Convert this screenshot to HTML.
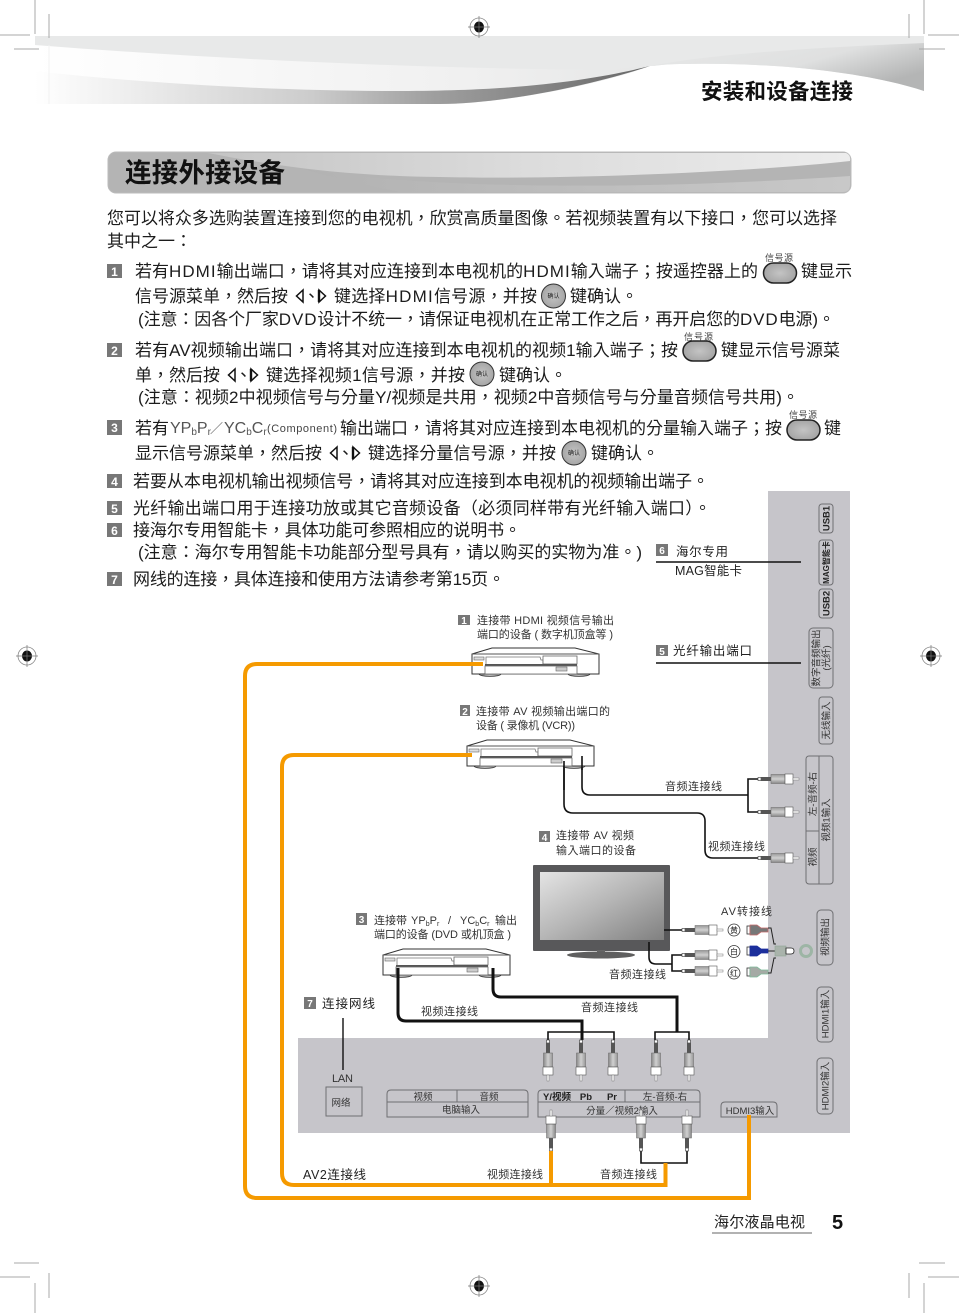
<!DOCTYPE html>
<html lang="zh-TW"><head><meta charset="utf-8"><title>连接外接设备</title>
<style>
html,body{margin:0;padding:0;background:#fff}
svg{display:block}
text{font-family:"Liberation Sans","Noto Sans CJK TC",sans-serif;fill:#222}
.b{font-size:17px;fill:#1c1c1c}
.s{font-size:11px;fill:#333}
.m{font-size:12.5px;fill:#222}
.v{font-size:9.5px;fill:#333}
.vb{font-size:9.5px;font-weight:bold;fill:#222}
.tiny{font-size:9px;fill:#444}
.n{font-weight:bold;fill:#fff;text-anchor:middle}
.crop{stroke:#aaa;stroke-width:1;fill:none}
.port{fill:none;stroke:#6f6f72;stroke-width:1}
.l{letter-spacing:1px}
</style></head><body>
<svg xmlns="http://www.w3.org/2000/svg" width="959" height="1313" viewBox="0 0 959 1313">
<defs>
<linearGradient id="g1" x1="0" x2="1" y1="0" y2="0"><stop offset="0" stop-color="#fff"/><stop offset=".45" stop-color="#ccc"/><stop offset=".64" stop-color="#a0a0a0"/><stop offset=".85" stop-color="#808080"/><stop offset="1" stop-color="#666"/></linearGradient>
<linearGradient id="g2" x1="0" x2="1" y1="0" y2=".6"><stop offset="0" stop-color="#e8e9e9"/><stop offset=".6" stop-color="#dfe0e0"/><stop offset="1" stop-color="#b4b5b5"/></linearGradient>
<linearGradient id="g3" x1="0" x2="1" y1="0" y2="0"><stop offset="0" stop-color="#fff"/><stop offset=".7" stop-color="#f0f0f0"/><stop offset="1" stop-color="#e6e7e7"/></linearGradient>
<linearGradient id="g4" x1="0" x2="1" y1="0" y2="0"><stop offset="0" stop-color="#c4c4c4"/><stop offset=".5" stop-color="#dcdcdc"/><stop offset="1" stop-color="#ececec"/></linearGradient>
<linearGradient id="g5" x1="0" x2="1" y1="0" y2="0"><stop offset="0" stop-color="#b2b2b2"/><stop offset="1" stop-color="#c8c8c8"/></linearGradient>
<linearGradient id="scr" x1="0" x2="1" y1="0" y2="1"><stop offset="0" stop-color="#e4e4e4"/><stop offset=".5" stop-color="#b5b5b5"/><stop offset="1" stop-color="#808080"/></linearGradient>
<linearGradient id="bar" x1="0" x2="0" y1="0" y2="1"><stop offset="0" stop-color="#999"/><stop offset=".5" stop-color="#d0d0d0"/><stop offset="1" stop-color="#888"/></linearGradient>
<radialGradient id="btn"><stop offset="0" stop-color="#c4c4c4"/><stop offset="1" stop-color="#a6a6a6"/></radialGradient>
<g id="reg"><circle r="9" fill="#fff" stroke="#888" stroke-width=".8"/><ellipse rx="5" ry="5.5" fill="#111"/><path d="M-11 0H11M0-11V11" stroke="#777" stroke-width=".7"/></g>
<g id="dev">
<ellipse cx="19" cy="26" rx="11" ry="2.4" fill="#bbb" stroke="#333" stroke-width=".8"/>
<ellipse cx="108" cy="26" rx="11" ry="2.4" fill="#bbb" stroke="#333" stroke-width=".8"/>
<path d="M1 6L21 0H104L128 6V26H1Z" fill="#fff" stroke="#333" stroke-width="1"/>
<path d="M1 6H128" stroke="#555" stroke-width="1"/>
<rect x="3" y="9" width="10" height="3" fill="#ddd" stroke="#666" stroke-width=".6"/>
<path d="M15 16V9H69L70 12H72V16" fill="none" stroke="#777" stroke-width=".8"/>
<rect x="72" y="8" width="34" height="8" fill="#fff" stroke="#666" stroke-width=".8"/>
<rect x="14" y="16" width="92" height="2" fill="#555"/>
<rect x="14" y="18" width="92" height="8" fill="#fff" stroke="#666" stroke-width=".8"/>
<rect x="85" y="19" width="11" height="4" fill="#ccc" stroke="#666" stroke-width=".6"/>
</g>
<g id="plug">
<rect x="0" y="-1.5" width="3" height="3" fill="#fff" stroke="#333" stroke-width=".6"/>
<rect x="3" y="-2" width="10" height="4" fill="#555"/>
<rect x="13" y="-4.5" width="14" height="9" fill="url(#bar)" stroke="#666" stroke-width=".5"/>
<rect x="27" y="-5" width="8" height="10" fill="#fff" stroke="#555" stroke-width=".6"/>
<rect x="35" y="-1" width="6" height="2" fill="#fff" stroke="#777" stroke-width=".5"/>
</g>
<g id="tri"><path d="M8 1L1.5 7L8 13Z" fill="#fff" stroke="#111" stroke-width="1.5"/><path d="M24 1L30.5 7L24 13Z" fill="#fff" stroke="#111" stroke-width="1.5"/><path d="M24 1V13" stroke="#111" stroke-width="2.4"/></g>
<g id="rb"><rect width="33" height="20" rx="10" fill="url(#btn)" stroke="#222" stroke-width="1.5"/></g>
<g id="ok"><circle r="12" fill="url(#btn)" stroke="#333" stroke-width="1"/></g>
</defs>

<!-- header swoosh -->
<path d="M35 36H924V91C860 70 760 62 680 64C665 64 655 66 650 66C600 85 500 104 440 104H35Z" fill="#e8e9e9"/>
<path d="M650 66C720 52 850 46 924 43V91C860 70 760 62 680 64C665 64 655 66 650 66Z" fill="url(#g2)"/>
<path d="M35 45C200 58 400 68 600 70L650 66C590 86 500 104 440 104H35Z" fill="url(#g3)"/>
<path d="M35 71C200 90 400 95 500 88C560 84 610 76 650 66C590 86 500 104 440 104H35Z" fill="url(#g1)"/>
<path d="M49 45V104" stroke="#f2f2f2" stroke-width="1"/>

<!-- crop marks -->
<path class="crop" d="M35 0V34M49 14V38M0 35H30M14 49H39M924 0V34M909 14V38M928 35H959M919 49H945M14 1263H39M0 1277H30M49 1273V1298M35 1283V1313M919 1263H945M928 1277H959M909 1273V1298M924 1283V1313"/>
<use href="#reg" x="479" y="27"/><use href="#reg" x="27" y="656"/><use href="#reg" x="931" y="656"/><use href="#reg" x="479" y="1286"/>

<text x="701" y="99" font-size="21.5" font-weight="bold" textLength="152" style="fill:#111">安装和设备连接</text>

<!-- title bar -->
<rect x="108" y="152" width="743" height="41" rx="8" fill="#b4b4b4" stroke="#bbb"/>
<path d="M300 168C420 190 650 190 850 176V185Q850 192 843 192H400C370 186 330 178 300 168Z" fill="url(#g5)"/>
<path d="M208 153H846Q851 155 850 161C750 172 560 180 440 177C340 176 270 165 208 153Z" fill="url(#g4)"/>
<text x="125" y="182" font-size="26.5" font-weight="bold" textLength="160" style="fill:#111">连接外接设备</text>

<!-- body text -->
<text class="b" x="107" y="224" textLength="730">您可以将众多选购装置连接到您的电视机，欣赏高质量图像。若视频装置有以下接口，您可以选择</text>
<text class="b" x="107" y="247" textLength="85">其中之一：</text>

<rect x="107" y="264" width="15" height="14" fill="#777"/><text class="n" x="114.5" y="276" font-size="12">1</text>
<text class="b" x="135" y="277" textLength="623">若有<tspan class="l">HDMI</tspan>输出端口，请将其对应连接到本电视机的<tspan class="l">HDMI</tspan>输入端子；按遥控器上的</text>
<use href="#rb" x="763.5" y="263"/><text class="tiny" x="765" y="261" textLength="28">信号源</text>
<text class="b" x="801" y="277" textLength="51">键显示</text>
<text class="b" x="135" y="302" textLength="153">信号源菜单，然后按</text>
<use href="#tri" x="295" y="289"/><text class="b" x="303" y="302">、</text>
<text class="b" x="334" y="302" textLength="203">键选择<tspan class="l">HDMI</tspan>信号源，并按</text>
<use href="#ok" x="553.5" y="296"/><text x="553.5" y="298" font-size="6" text-anchor="middle">确认</text>
<text class="b" x="570" y="302" textLength="68">键确认。</text>
<text class="b" x="138" y="325" textLength="697">(注意：因各个厂家<tspan class="l">DVD</tspan>设计不统一，请保证电视机在正常工作之后，再开启您的<tspan class="l">DVD</tspan>电源)。</text>

<rect x="107" y="343" width="15" height="14" fill="#777"/><text class="n" x="114.5" y="355" font-size="12">2</text>
<text class="b" x="135" y="356" textLength="543">若有AV视频输出端口，请将其对应连接到本电视机的视频1输入端子；按</text>
<use href="#rb" x="683" y="341"/><text class="tiny" x="684" y="340" textLength="29">信号源</text>
<text class="b" x="721" y="356" textLength="119">键显示信号源菜</text>
<text class="b" x="135" y="381" textLength="85">单，然后按</text>
<use href="#tri" x="227" y="368"/><text class="b" x="235" y="381">、</text>
<text class="b" x="266" y="381" textLength="199">键选择视频1信号源，并按</text>
<use href="#ok" x="482" y="374"/><text x="482" y="376" font-size="6" text-anchor="middle">确认</text>
<text class="b" x="499" y="381" textLength="68">键确认。</text>
<text class="b" x="138" y="403" textLength="661">(注意：视频2中视频信号与分量Y/视频是共用，视频2中音频信号与分量音频信号共用)。</text>

<rect x="107" y="420" width="15" height="15" fill="#777"/><text class="n" x="114.5" y="432" font-size="12">3</text>
<text class="b" x="135" y="434" textLength="34">若有</text>
<text x="170" y="433" font-size="16" style="fill:#555">YP<tspan font-size="10" dy="2">b</tspan><tspan dy="-2">P</tspan><tspan font-size="10" dy="2">r</tspan></text>
<text x="210" y="433" font-size="13" style="fill:#555">／</text>
<text x="224" y="433" font-size="16" style="fill:#555">YC<tspan font-size="10" dy="2">b</tspan><tspan dy="-2">C</tspan><tspan font-size="10" dy="2">r</tspan></text>
<text x="267" y="432" font-size="11" textLength="70" style="fill:#444">(Component)</text>
<text class="b" x="340" y="434" textLength="442">输出端口，请将其对应连接到本电视机的分量输入端子；按</text>
<use href="#rb" x="787" y="420"/><text class="tiny" x="789" y="418" textLength="28">信号源</text>
<text class="b" x="824" y="434" textLength="17">键</text>
<text class="b" x="135" y="459" textLength="187">显示信号源菜单，然后按</text>
<use href="#tri" x="329" y="446"/><text class="b" x="337" y="459">、</text>
<text class="b" x="368" y="459" textLength="188">键选择分量信号源，并按</text>
<use href="#ok" x="574" y="453"/><text x="574" y="455" font-size="6" text-anchor="middle">确认</text>
<text class="b" x="591" y="459" textLength="68">键确认。</text>

<rect x="107" y="474" width="15" height="14" fill="#777"/><text class="n" x="114.5" y="486" font-size="12">4</text>
<text class="b" x="133" y="487" textLength="576">若要从本电视机输出视频信号，请将其对应连接到本电视机的视频输出端子。</text>
<rect x="107" y="501" width="15" height="14" fill="#777"/><text class="n" x="114.5" y="513" font-size="12">5</text>
<text class="b" x="133" y="514" textLength="578">光纤输出端口用于连接功放或其它音频设备（必须同样带有光纤输入端口）。</text>
<rect x="107" y="523" width="15" height="14" fill="#777"/><text class="n" x="114.5" y="535" font-size="12">6</text>
<text class="b" x="133" y="536" textLength="388">接海尔专用智能卡，具体功能可参照相应的说明书。</text>
<text class="b" x="138" y="558" textLength="504">(注意：海尔专用智能卡功能部分型号具有，请以购买的实物为准。)</text>
<rect x="107" y="572" width="15" height="14" fill="#777"/><text class="n" x="114.5" y="584" font-size="12">7</text>
<text class="b" x="133" y="585" textLength="372">网线的连接，具体连接和使用方法请参考第15页。</text>

<!-- gray panel -->
<path d="M768 491H850V1133H298V1038H768Z" fill="#c6c5ca"/>

<!-- right labels -->
<g class="port">
<rect x="819" y="504" width="14" height="29" rx="3"/>
<rect x="819" y="540" width="14" height="45" rx="3"/>
<rect x="819" y="589" width="14" height="29" rx="3"/>
<rect x="809" y="628" width="24" height="60" rx="4"/>
<rect x="819" y="697" width="14" height="47" rx="3"/>
<rect x="806" y="756" width="27" height="128" rx="3"/>
<path d="M819 756V884M806 831H819"/>
<rect x="817" y="910" width="16" height="55" rx="4"/>
<rect x="817" y="987" width="16" height="55" rx="4"/>
<rect x="817" y="1058" width="16" height="56" rx="4"/>
<rect x="326" y="1087" width="36" height="29"/>
<path d="M387 1117V1094Q387 1090 391 1090H524Q528 1090 528 1094V1117ZM387 1102H528M457 1090V1102"/>
<path d="M538 1117V1094Q538 1090 542 1090H696Q700 1090 700 1094V1117ZM538 1102H700M625 1090V1102"/>
<path d="M721 1117V1106Q721 1102 725 1102H773Q777 1102 777 1106V1117Z"/>
</g>
<text class="vb" transform="translate(829.5,518.5) rotate(-90)" text-anchor="middle">USB1</text>
<text class="vb" transform="translate(829,562.5) rotate(-90)" text-anchor="middle" style="font-size:8px">MAG智能卡</text>
<text class="vb" transform="translate(829.5,603.5) rotate(-90)" text-anchor="middle">USB2</text>
<text class="v" transform="translate(819.5,658) rotate(-90)" text-anchor="middle">数字音频输出</text>
<text class="v" transform="translate(829.5,658) rotate(-90)" text-anchor="middle">(光纤)</text>
<text class="v" transform="translate(829.5,720.5) rotate(-90)" text-anchor="middle">无线输入</text>
<text class="v" transform="translate(816,794) rotate(-90)" text-anchor="middle">左-音频-右</text>
<text class="v" transform="translate(816,857) rotate(-90)" text-anchor="middle">视频</text>
<text class="v" transform="translate(829.5,820) rotate(-90)" text-anchor="middle">视频1输入</text>
<text class="v" transform="translate(828.5,937) rotate(-90)" text-anchor="middle">视频输出</text>
<text class="v" transform="translate(828.5,1014) rotate(-90)" text-anchor="middle">HDMI1输入</text>
<text class="v" transform="translate(828.5,1086) rotate(-90)" text-anchor="middle">HDMI2输入</text>

<!-- upper labels -->
<rect x="656" y="544" width="12" height="12" fill="#777"/><text class="n" x="662" y="554" font-size="10">6</text>
<text class="m" x="676" y="556" textLength="52">海尔专用</text>
<path d="M656 562H801M656 663H801" stroke="#111" stroke-width="1.6"/>
<text class="m" x="675" y="575" textLength="67">MAG智能卡</text>
<rect x="656" y="645" width="12" height="11" fill="#777"/><text class="n" x="662" y="655" font-size="10">5</text>
<text class="m" x="673" y="655" textLength="79">光纤输出端口</text>

<rect x="458" y="615" width="12" height="10" fill="#777"/><text class="n" x="464" y="624" font-size="10">1</text>
<text class="s" x="477" y="624" textLength="137">连接带 HDMI 视频信号输出</text>
<text class="s" x="477" y="638" textLength="136">端口的设备 ( 数字机顶盒等 )</text>
<rect x="460" y="705" width="10" height="11" fill="#777"/><text class="n" x="465" y="715" font-size="10">2</text>
<text class="s" x="476" y="715" textLength="134">连接带 AV 视频输出端口的</text>
<text class="s" x="476" y="729" textLength="99">设备 ( 录像机 (VCR))</text>
<rect x="539" y="831" width="11" height="11" fill="#777"/><text class="n" x="544.5" y="841" font-size="10">4</text>
<text class="s" x="556" y="839" textLength="78">连接带 AV 视频</text>
<text class="s" x="556" y="854" textLength="80">输入端口的设备</text>
<rect x="356" y="913" width="11" height="12" fill="#777"/><text class="n" x="361.5" y="923" font-size="10">3</text>
<text class="s" x="374" y="924">连接带</text>
<text class="s" x="411" y="924" font-size="11">YP<tspan font-size="7" dy="2">b</tspan><tspan dy="-2">P</tspan><tspan font-size="7" dy="2">r</tspan></text>
<text class="s" x="448" y="924">/</text>
<text class="s" x="460" y="924">YC<tspan font-size="7" dy="2">b</tspan><tspan dy="-2">C</tspan><tspan font-size="7" dy="2">r</tspan></text>
<text class="s" x="495" y="924">输出</text>
<text class="s" x="374" y="938" textLength="137">端口的设备 (DVD 或机顶盒 )</text>
<rect x="304" y="997" width="12" height="12" fill="#777"/><text class="n" x="310" y="1007" font-size="10">7</text>
<text class="m" x="322" y="1008" textLength="53">连接网线</text>

<text class="s" x="665" y="790" textLength="57">音频连接线</text>
<text class="s" x="708" y="850" textLength="57">视频连接线</text>
<text class="s" x="721" y="915" textLength="51">AV转接线</text>
<text class="s" x="609" y="978" textLength="57">音频连接线</text>
<text class="s" x="421" y="1015" textLength="57">视频连接线</text>
<text class="s" x="581" y="1011" textLength="57">音频连接线</text>
<text class="s" x="332" y="1082" textLength="21">LAN</text>
<text class="v" x="341" y="1106" text-anchor="middle">网络</text>
<text class="v" x="423" y="1100" text-anchor="middle">视频</text>
<text class="v" x="489" y="1100" text-anchor="middle">音频</text>
<text class="v" x="461" y="1113" text-anchor="middle">电脑输入</text>
<text class="vb" x="557" y="1100" text-anchor="middle">Y/视频</text>
<text class="vb" x="586" y="1100" text-anchor="middle">Pb</text>
<text class="vb" x="612" y="1100" text-anchor="middle">Pr</text>
<text class="v" x="665" y="1100" text-anchor="middle">左-音频-右</text>
<text class="v" x="622" y="1114" text-anchor="middle">分量／视频2输入</text>
<text class="v" x="750" y="1114" text-anchor="middle">HDMI3输入</text>
<text class="m" x="303" y="1179" textLength="63">AV2连接线</text>
<text class="s" x="487" y="1178" textLength="56">视频连接线</text>
<text class="s" x="600" y="1178" textLength="57">音频连接线</text>

<!-- TV -->
<rect x="533" y="865" width="137" height="86" rx="1" fill="#58585a"/>
<rect x="540" y="872" width="124" height="68" fill="url(#scr)"/>
<rect x="597" y="950" width="8" height="3" fill="#666"/>
<ellipse cx="601" cy="955" rx="34" ry="3.5" fill="#5f5f5f"/>

<!-- black wires -->
<g fill="none" stroke="#111">
<path d="M564 761V804Q564 813 573 813H697Q705 813 705 821V850Q705 858 713 858H758" stroke-width="1.6"/>
<path d="M582 756V787Q582 795 590 795H748M758 779H748V812H758" stroke-width="1.6"/>
<path d="M664 930H682" stroke-width="1.6"/>
<path d="M649 942V957Q649 964 656 964H672M682 955H672V971H682" stroke-width="1.6"/>
<path d="M398 975V1013Q398 1021 406 1021H582V1040" stroke-width="3"/>
<path d="M493 970V989Q493 997 501 997H677V1032" stroke-width="3"/>
<path d="M548 1040V1032H614V1040M655 1040V1032H689V1040" stroke-width="1.6"/>
<path d="M641 1150V1163H687V1150" stroke-width="1.6"/>
<path d="M343 1018V1070" stroke-width="1.4"/>
</g>

<!-- devices -->
<use href="#dev" x="471" y="648"/>
<use href="#dev" x="466" y="740"/>
<use href="#dev" x="382" y="949"/>
<path d="M564 761V790M582 756V770" stroke="#111" stroke-width="1.6"/>
<path d="M398 968V980M493 968V980" stroke="#111" stroke-width="3"/>

<!-- plugs -->
<use href="#plug" transform="translate(758,779)"/>
<use href="#plug" transform="translate(758,812)"/>
<use href="#plug" transform="translate(758,858)"/>
<use href="#plug" transform="translate(682,930)"/>
<use href="#plug" transform="translate(682,955)"/>
<use href="#plug" transform="translate(682,971)"/>
<use href="#plug" transform="translate(548,1040) rotate(90)"/>
<use href="#plug" transform="translate(581,1040) rotate(90)"/>
<use href="#plug" transform="translate(613,1040) rotate(90)"/>
<use href="#plug" transform="translate(656,1040) rotate(90)"/>
<use href="#plug" transform="translate(689,1040) rotate(90)"/>
<use href="#plug" transform="translate(551,1151) rotate(-90)"/>
<use href="#plug" transform="translate(641,1151) rotate(-90)"/>
<use href="#plug" transform="translate(687,1151) rotate(-90)"/>

<!-- AV adapter -->
<g text-anchor="middle">
<circle cx="734" cy="930" r="6" fill="#fff" stroke="#333" stroke-width=".8"/><text x="734" y="933" font-size="8">黄</text>
<circle cx="734" cy="951.5" r="6" fill="#fff" stroke="#333" stroke-width=".8"/><text x="734" y="954.5" font-size="8">白</text>
<circle cx="734" cy="973" r="6" fill="#fff" stroke="#333" stroke-width=".8"/><text x="734" y="976" font-size="8">红</text>
</g>
<g stroke-width=".8">
<rect x="747" y="926" width="3" height="8" fill="#fff" stroke="#333"/>
<path d="M750 925H757L761 928H768V932H761L757 935H750Z" fill="#777" stroke="#c56a6a"/>
<rect x="747" y="947" width="3" height="8" fill="#fff" stroke="#333"/>
<path d="M750 946H757L761 949H768V953H761L757 956H750Z" fill="#1c2f9c" stroke="#1c2f9c"/>
<rect x="747" y="968" width="3" height="8" fill="#fff" stroke="#333"/>
<path d="M750 967H757L761 970H768V974H761L757 977H750Z" fill="#a5aaa5" stroke="#7fba9a"/>
</g>
<path d="M768 928H771L774 944H776M768 951H776M768 973H771L774 958H776" fill="none" stroke="#222" stroke-width="1"/>
<rect x="775" y="946" width="11" height="10" fill="#a9b3ab" stroke="#8fa596" stroke-width=".6"/>
<path d="M786 948H791Q794 948 794 951Q794 954 791 954H786Z" fill="#fff" stroke="#222" stroke-width=".8"/>
<circle cx="806" cy="951" r="5.5" fill="#c6c5ca" stroke="#9db5a5" stroke-width="3"/>

<!-- orange cables -->
<g fill="none" stroke="#f59a00" stroke-width="4">
<path d="M483 664H257Q245 664 245 676V1186Q245 1198 257 1198H749V1115"/>
<path d="M472 755H294Q282 755 282 767V1173Q282 1185 294 1185H665.5V1163"/>
<path d="M551 1185V1151"/>
</g>

<!-- footer -->
<text x="714" y="1227" font-size="15" textLength="91">海尔液晶电视</text>
<path d="M712 1233H812" stroke="#666" stroke-width="1"/>
<text x="832" y="1229" font-size="20" font-weight="bold" style="fill:#111">5</text>
</svg>
</body></html>
